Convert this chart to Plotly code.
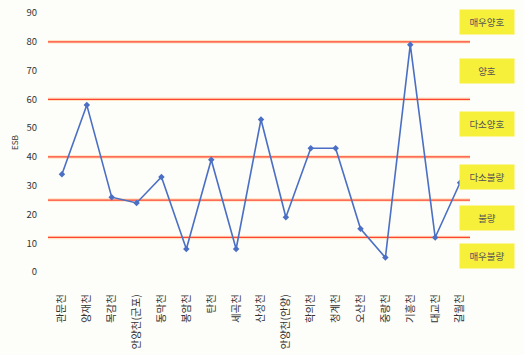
import plotly.graph_objects as go

categories = ["관문천", "양재천", "목감천", "안양천(군포)", "동막천", "봉암천", "탄천", "세곡천",
              "산성천", "안양천(안양)", "학의천", "청계천", "오산천", "중랑천", "기흥천", "대교천", "갈월천"]
esb_values = [34, 58, 26, 24, 33, 8, 39, 8, 53, 19, 43, 43, 15, 5, 79, 12, 31]

threshold_values = [80, 60, 40, 25, 12]
grade_labels = ["매우양호", "양호", "다소양호", "다소불량", "불량", "매우불량"]
grade_label_y = [87, 70, 51.5, 33, 18.8, 5.4]
y_ticks = [0, 10, 20, 30, 40, 50, 60, 70, 80, 90]

FONT = "Noto Sans CJK KR"

fig = go.Figure()
fig.add_trace(go.Scatter(
    x=categories, y=esb_values, mode="lines+markers",
    line=dict(color="#4a6fc4", width=1.6),
    marker=dict(symbol="diamond", size=5, color="#4a6fc4"),
    showlegend=False, cliponaxis=False,
))

shapes = []
for t in threshold_values:
    shapes.append(dict(type="line", xref="paper", x0=0, x1=1, yref="y", y0=t, y1=t,
                       line=dict(color="rgba(255,200,140,0.5)", width=3.5), layer="below"))
    shapes.append(dict(type="line", xref="paper", x0=0, x1=1, yref="y", y0=t, y1=t,
                       line=dict(color="#ff4433", width=1.2), layer="below"))

annotations = []
for lab, yv in zip(grade_labels, grade_label_y):
    annotations.append(dict(
        xref="paper", x=1.040, xanchor="center", yref="y", y=yv, yanchor="middle",
        text=lab, showarrow=False, bgcolor="#f7f03a", width=52, height=22,
        font=dict(family=FONT, size=9.5, color="#555555"),
    ))

fig.update_layout(
    width=524, height=355,
    margin=dict(l=48, r=54, t=13, b=83),
    paper_bgcolor="#fdfdf9", plot_bgcolor="#fdfdf9",
    font=dict(family=FONT, color="#333333"),
    shapes=shapes, annotations=annotations,
    xaxis=dict(
        type="category", range=[-0.56, 16.4], showgrid=False, zeroline=False,
        showline=False, ticks="", tickangle=-90, automargin=False,
        ticklabelstandoff=19,
        tickfont=dict(family=FONT, size=10.5, color="#333333"),
    ),
    yaxis=dict(
        range=[0, 90], tickvals=y_ticks, showgrid=False, zeroline=False,
        showline=False, ticks="", ticklabelstandoff=10, automargin=False,
        tickfont=dict(family=FONT, size=9.5, color="#333333"),
        title=dict(text="ESB", font=dict(family=FONT, size=8, color="#333333"), standoff=6),
    ),
)

fig.write_html("out.html", config={"displayModeBar": False},
               post_script="document.body.style.margin='0';")
